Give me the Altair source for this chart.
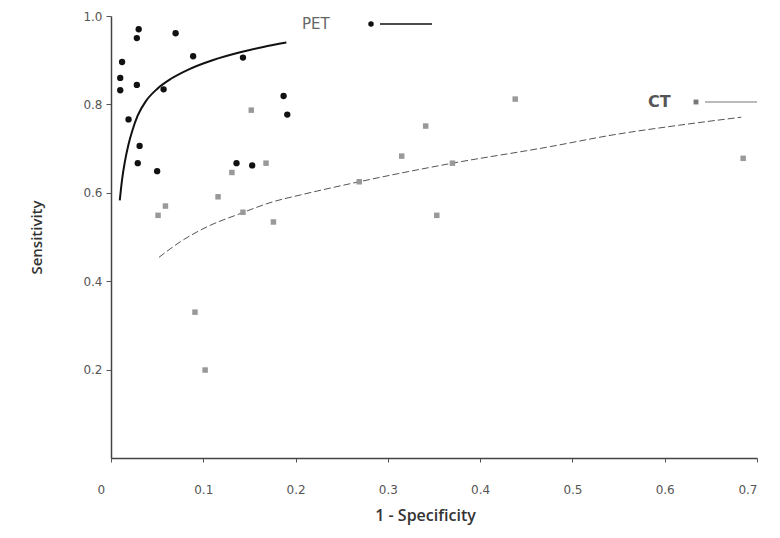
import altair as alt
import pandas as pd

# PET studies (black circles)
pet_x = [0.030, 0.028, 0.070, 0.012, 0.010, 0.010, 0.028, 0.089, 0.143, 0.057,
         0.019, 0.031, 0.029, 0.050, 0.136, 0.153, 0.187, 0.191]
pet_y = [0.970, 0.950, 0.961, 0.896, 0.860, 0.832, 0.844, 0.909, 0.906, 0.834,
         0.766, 0.706, 0.667, 0.649, 0.667, 0.662, 0.819, 0.777]

# CT studies (grey squares)
ct_x = [0.152, 0.131, 0.168, 0.116, 0.059, 0.051, 0.176, 0.143, 0.091, 0.102,
        0.438, 0.341, 0.315, 0.370, 0.269, 0.353, 0.685]
ct_y = [0.787, 0.646, 0.667, 0.591, 0.570, 0.549, 0.534, 0.556, 0.330, 0.199,
        0.812, 0.751, 0.683, 0.667, 0.625, 0.549, 0.678]

# Summary ROC curves
pet_curve_x = [0.0095, 0.012, 0.015, 0.019, 0.023, 0.029, 0.038, 0.050, 0.065,
               0.085, 0.110, 0.140, 0.165, 0.190]
pet_curve_y = [0.583, 0.630, 0.670, 0.710, 0.740, 0.775, 0.808, 0.835, 0.858,
               0.880, 0.900, 0.918, 0.930, 0.940]
ct_curve_x = [0.052, 0.075, 0.104, 0.140, 0.176, 0.205, 0.269, 0.370, 0.472,
              0.544, 0.616, 0.683]
ct_curve_y = [0.454, 0.489, 0.523, 0.553, 0.580, 0.595, 0.625, 0.667, 0.703,
              0.731, 0.753, 0.771]

x_ticks = [0, 0.1, 0.2, 0.3, 0.4, 0.5, 0.6, 0.7]
y_ticks = [0.2, 0.4, 0.6, 0.8, 1.0]

pet_df = pd.DataFrame({"x": pet_x, "y": pet_y})
ct_df = pd.DataFrame({"x": ct_x, "y": ct_y})
pet_c = pd.DataFrame({"x": pet_curve_x, "y": pet_curve_y})
ct_c = pd.DataFrame({"x": ct_curve_x, "y": ct_curve_y})

LABEL_FONT = "DejaVu Sans"
TITLE_FONT = "Open Sans"

xscale = alt.Scale(domain=[0, 0.7], nice=False, zero=True)
yscale = alt.Scale(domain=[0, 1.0], nice=False, zero=True)

xaxis = alt.Axis(
    values=x_ticks, title="1 - Specificity", grid=False,
    labelExpr="datum.value == 0 ? '0' : format(datum.value, '.1f')",
    labelOffset={"expr": "datum.value == 0 ? -14 : 0"},
    labelFont=LABEL_FONT, labelFontSize=12, labelColor="#555555",
    labelPadding=22, tickSize=4, tickColor="#555555",
    domainColor="#444444", domainWidth=1.5,
    titleFont=TITLE_FONT, titleFontSize=16, titleFontWeight=600,
    titleColor="#333333", titlePadding=12, titleX=314,
)
yaxis = alt.Axis(
    values=y_ticks, title="Sensitivity", grid=False,
    labelExpr="format(datum.value, '.1f')",
    labelFont=LABEL_FONT, labelFontSize=12, labelColor="#555555",
    labelPadding=4, tickSize=5, tickColor="#555555",
    domainColor="#444444", domainWidth=1.5,
    titleFont=TITLE_FONT, titleFontSize=15, titleFontWeight=600,
    titleColor="#333333", titlePadding=38,
)

base_x = alt.X("x:Q", scale=xscale, axis=xaxis)
base_y = alt.Y("y:Q", scale=yscale, axis=yaxis)

pet_line = alt.Chart(pet_c).mark_line(
    color="#111111", strokeWidth=2, interpolate="monotone"
).encode(x=base_x, y=base_y)

ct_line = alt.Chart(ct_c).mark_line(
    color="#555555", strokeWidth=1, strokeDash=[7, 3], interpolate="monotone"
).encode(x="x:Q", y="y:Q")

pet_pts = alt.Chart(pet_df).mark_point(
    shape="circle", filled=True, color="#111111", size=40, opacity=1
).encode(x="x:Q", y="y:Q")

ct_pts = alt.Chart(ct_df).mark_point(
    shape="square", filled=True, color="#999999", size=30, opacity=1
).encode(x="x:Q", y="y:Q")

# Legend-style annotations inside the plot
leg = pd.DataFrame({"k": [0]})
pet_txt = alt.Chart(leg).mark_text(
    text="PET", align="left", baseline="middle", font=LABEL_FONT,
    fontSize=15, color="#666666"
).encode(x=alt.value(191), y=alt.value(8))
pet_dot = alt.Chart(leg).mark_point(
    shape="circle", filled=True, color="#111111", size=30, opacity=1
).encode(x=alt.value(260), y=alt.value(8))
pet_rule = alt.Chart(leg).mark_rule(color="#111111", strokeWidth=1.5).encode(
    x=alt.value(269), x2=alt.value(321), y=alt.value(8))

ct_txt = alt.Chart(leg).mark_text(
    text="CT", align="left", baseline="middle", font=LABEL_FONT,
    fontSize=16, fontWeight="bold", color="#555555"
).encode(x=alt.value(537), y=alt.value(86))
ct_sq = alt.Chart(leg).mark_point(
    shape="square", filled=True, color="#777777", size=24, opacity=1
).encode(x=alt.value(585), y=alt.value(86))
ct_rule = alt.Chart(leg).mark_rule(color="#777777", strokeWidth=1).encode(
    x=alt.value(594), x2=alt.value(646), y=alt.value(86))

chart = alt.layer(
    pet_line, ct_line, pet_pts, ct_pts,
    pet_txt, pet_dot, pet_rule, ct_txt, ct_sq, ct_rule
).properties(
    width=646, height=442,
    autosize=alt.AutoSizeParams(type="none"),
    padding={"left": 103, "top": 8, "right": 15, "bottom": 72},
    background="white",
).configure_view(stroke=None)

chart.save("out.html", embed_options={"renderer": "svg", "actions": False})
